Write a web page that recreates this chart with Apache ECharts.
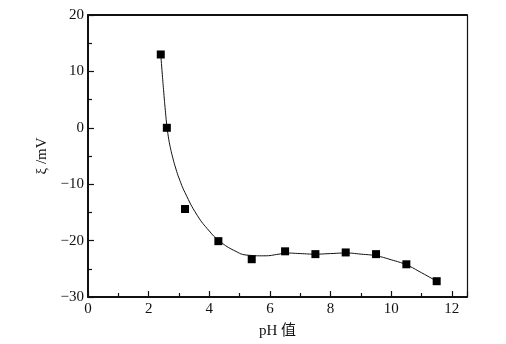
<!DOCTYPE html>
<html>
<head>
<meta charset="utf-8">
<script src="https://cdn.jsdelivr.net/npm/echarts@6/dist/echarts.min.js"></script>
<style>
  html, body { margin: 0; padding: 0; background: #fff; }
  #chart { width: 506px; height: 344px; }
</style>
</head>
<body>
<div id="chart"></div>
<script>
// measured points
const phValues = [2.4, 2.6, 3.2, 4.3, 5.4, 6.5, 7.5, 8.5, 9.5, 10.5, 11.5];
const zetaValues = [13, 0, -14.4, -20.1, -23.3, -21.9, -22.4, -22.1, -22.4, -24.2, -27.2];

// fitted curve
const curvePh = [2.4, 2.45, 2.5, 2.55, 2.6, 2.65, 2.7, 2.8, 2.9, 3.0, 3.2, 3.6, 4.0, 4.3, 4.8, 5.3, 5.8, 6.3, 6.5, 7.0, 7.5, 8.0, 8.5, 9.0, 9.5, 10.0, 10.5, 11.0, 11.5];
const curveZeta = [13, 9.5, 6.2, 3.1, 0.4, -1.6, -3.1, -5.4, -7.3, -8.9, -11.5, -15.5, -18.3, -19.9, -21.7, -22.6, -22.7, -22.4, -22.2, -22.3, -22.4, -22.3, -22.2, -22.4, -22.7, -23.4, -24.3, -25.7, -27.2];

const xTicks = [0, 2, 4, 6, 8, 10, 12];
const yTicks = [-30, -20, -10, 0, 10, 20];

const font = '"Liberation Serif", "Times New Roman", "Noto Sans CJK SC", serif';
const minus = (v) => String(v).replace('-', '\u2212');

const chart = echarts.init(document.getElementById('chart'), null, { renderer: 'canvas' });

const option = {
  animation: false,
  backgroundColor: '#fff',
  grid: { left: 88, right: 39, top: 15, bottom: 47 },
  xAxis: [
    {
      type: 'value',
      min: 0,
      max: 12.5,
      interval: 2,
      position: 'bottom',
      name: 'pH 值',
      nameLocation: 'middle',
      nameGap: 27,
      nameTextStyle: { fontFamily: font, fontSize: 15, color: '#111' },
      axisLine: { onZero: false, lineStyle: { color: '#111', width: 2 } },
      axisTick: { inside: true, length: 6, lineStyle: { color: '#111', width: 1.2 } },
      minorTick: { show: true, splitNumber: 2, length: 4, lineStyle: { color: '#111', width: 1.2 } },
      axisLabel: {
        fontFamily: font, fontSize: 15, color: '#111', margin: 5,
        showMaxLabel: false,
        formatter: (v) => (xTicks.includes(v) ? minus(v) : '')
      },
      splitLine: { show: false }
    },
    {
      type: 'value',
      min: 0,
      max: 12.5,
      position: 'top',
      axisLine: { onZero: false, lineStyle: { color: '#111', width: 2 } },
      axisTick: { show: false },
      axisLabel: { show: false },
      splitLine: { show: false }
    }
  ],
  yAxis: [
    {
      type: 'value',
      min: -30,
      max: 20,
      interval: 10,
      position: 'left',
      name: 'ξ /mV',
      nameLocation: 'middle',
      nameGap: 33,
      nameRotate: 90,
      nameTextStyle: { fontFamily: font, fontSize: 15, color: '#111' },
      axisLine: { onZero: false, lineStyle: { color: '#111', width: 2 } },
      axisTick: { inside: true, length: 6, lineStyle: { color: '#111', width: 1.2 } },
      minorTick: { show: true, splitNumber: 2, length: 4, lineStyle: { color: '#111', width: 1.2 } },
      axisLabel: {
        fontFamily: font, fontSize: 15, color: '#111', margin: 4,
        formatter: (v) => (yTicks.includes(v) ? minus(v) : '')
      },
      splitLine: { show: false }
    },
    {
      type: 'value',
      min: -30,
      max: 20,
      position: 'right',
      axisLine: { show: true, onZero: false, lineStyle: { color: '#111', width: 1.2 } },
      axisTick: { show: false },
      axisLabel: { show: false },
      splitLine: { show: false }
    }
  ],
  series: [
    {
      type: 'line',
      data: curvePh.map((x, i) => [x, curveZeta[i]]),
      smooth: 0.5,
      showSymbol: false,
      symbol: 'none',
      lineStyle: { color: '#111', width: 1 },
      z: 2
    },
    {
      type: 'scatter',
      data: phValues.map((x, i) => [x, zetaValues[i]]),
      symbol: 'rect',
      symbolSize: 8,
      itemStyle: { color: '#000', opacity: 1 },
      z: 3
    }
  ]
};

chart.setOption(option);
</script>
</body>
</html>
